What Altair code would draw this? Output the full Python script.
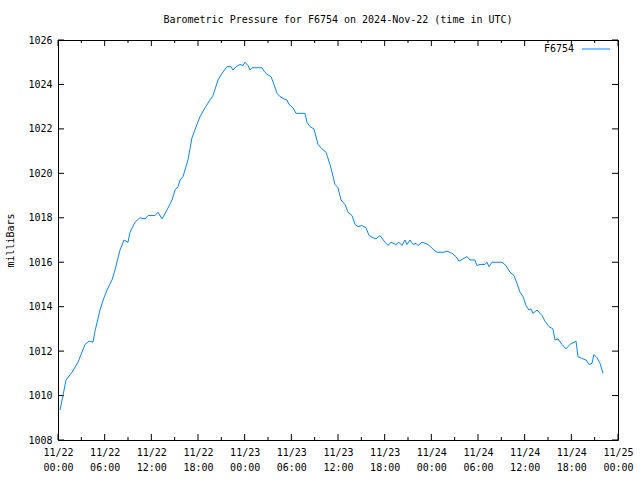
import altair as alt
import pandas as pd

# hours after 2024-11-22 00:00 UTC
hours = [0.26, 0.64, 1.03, 1.80, 2.57, 3.47, 3.99, 4.50, 4.76, 5.40, 5.91, 6.30, 6.94, 7.33,
         7.97, 8.49, 9.00, 9.26, 9.90, 10.54, 11.19, 11.57, 12.47, 12.86, 13.37, 14.01, 14.66,
         15.04, 15.43, 15.69, 16.07, 16.71, 17.23, 17.87, 18.26, 18.90, 19.54, 19.93, 20.57,
         21.09, 21.73, 22.24, 22.50, 22.89, 23.40, 23.79, 24.04, 24.43, 24.69, 24.94, 26.23,
         26.49, 26.87, 27.39, 27.77, 28.16, 28.54, 29.06, 29.44, 29.70, 30.21, 30.60, 31.76,
         32.01, 32.40, 32.91, 33.43, 33.94, 34.46, 34.97, 35.23, 35.61, 36.00, 36.39, 36.90,
         37.29, 37.80, 38.19, 38.57, 39.09, 39.60, 39.99, 40.50, 40.89, 41.40, 42.04, 42.43,
         42.81, 43.46, 43.84, 44.23, 44.61, 44.87, 45.26, 45.64, 46.03, 46.29, 46.80, 47.19,
         47.57, 48.34, 48.73, 49.63, 50.01, 50.66, 51.17, 51.56, 52.07, 52.59, 52.97, 53.61,
         53.87, 54.26, 54.90, 55.16, 55.41, 55.80, 57.09, 57.60, 58.11, 58.63, 59.01, 59.40,
         59.79, 60.17, 60.56, 60.81, 61.07, 61.59, 62.23, 62.61, 63.13, 63.64, 63.90, 64.29,
         64.80, 65.31, 65.83, 66.60, 66.86, 67.50, 67.89, 68.27, 68.66, 68.91, 69.30, 69.69,
         69.94, 70.07]

pressure = [1009.35, 1010.0, 1010.7, 1011.05, 1011.5, 1012.3, 1012.45, 1012.4, 1012.9, 1013.85,
            1014.4, 1014.75, 1015.2, 1015.65, 1016.55, 1017.0, 1016.9, 1017.35, 1017.8, 1018.0,
            1017.95, 1018.1, 1018.1, 1018.25, 1017.95, 1018.35, 1018.8, 1019.25, 1019.4, 1019.7,
            1019.85, 1020.6, 1021.6, 1022.2, 1022.55, 1022.95, 1023.3, 1023.5, 1024.2, 1024.5,
            1024.8, 1024.8, 1024.65, 1024.8, 1024.9, 1024.85, 1025.0, 1024.85, 1024.65, 1024.75,
            1024.75, 1024.6, 1024.45, 1024.35, 1024.0, 1023.6, 1023.45, 1023.35, 1023.3, 1023.1,
            1022.95, 1022.7, 1022.7, 1022.3, 1022.1, 1022.0, 1021.3, 1021.1, 1020.95, 1020.4,
            1020.05, 1019.5, 1019.35, 1018.8, 1018.6, 1018.25, 1018.1, 1017.7, 1017.6, 1017.65,
            1017.55, 1017.2, 1017.1, 1017.05, 1017.2, 1016.9, 1016.75, 1016.9, 1016.8, 1016.9,
            1016.75, 1017.0, 1016.8, 1017.0, 1016.8, 1016.85, 1016.75, 1016.9, 1016.85, 1016.8,
            1016.55, 1016.45, 1016.45, 1016.5, 1016.4, 1016.25, 1016.05, 1016.15, 1016.25, 1016.1,
            1016.1, 1015.85, 1015.9, 1015.9, 1016.0, 1015.8, 1016.0, 1016.0, 1015.85, 1015.55,
            1015.4, 1015.05, 1014.65, 1014.45, 1014.05, 1013.85, 1013.9, 1013.7, 1013.85, 1013.6,
            1013.35, 1013.1, 1013.0, 1012.5, 1012.55, 1012.3, 1012.1, 1012.3, 1012.45, 1011.75,
            1011.65, 1011.6, 1011.4, 1011.45, 1011.85, 1011.7, 1011.45, 1011.15, 1011.0]

y_ticks = [1008, 1010, 1012, 1014, 1016, 1018, 1020, 1022, 1024, 1026]
x_major_hours = [0, 6, 12, 18, 24, 30, 36, 42, 48, 54, 60, 66, 72]
x_minor_hours = [3, 9, 15, 21, 27, 33, 39, 45, 51, 57, 63, 69]
station = "F6754"
title_text = "Barometric Pressure for F6754 on 2024-Nov-22 (time in UTC)"

base_t = pd.Timestamp("2024-11-22T00:00:00Z")


def to_ms(hs):
    return [int((base_t + pd.Timedelta(hours=h)).value // 10**6) for h in hs]


df = pd.DataFrame({"t": to_ms(hours), "p": pressure})
major_df = pd.DataFrame({"t": to_ms(x_major_hours)})
minor_df = pd.DataFrame({"t": to_ms(x_minor_hours)})
yt_df = pd.DataFrame({"p": y_ticks})

FONT = "DejaVu Sans Mono"
LINE_COLOR = "#0a84ff"
W, H = 560, 400

x_scale = alt.Scale(type="utc", domain=to_ms([0, 72]))
y_scale = alt.Scale(domain=[1008, 1026], nice=False, zero=False)

x_axis = alt.Axis(
    values=to_ms(x_major_hours), ticks=False, domain=False, grid=False, title=None,
    labelExpr="[utcFormat(datum.value, '%m/%d'), utcFormat(datum.value, '%H:%M')]",
    labelPadding=7, labelAngle=0, labelAlign="center", labelBaseline="top",
    labelLineHeight=15, labelFlush=False, labelOverlap=False,
    labelFont=FONT, labelFontSize=10, labelColor="black")
y_axis = alt.Axis(
    values=y_ticks, ticks=False, domain=False, grid=False, format="d",
    labelPadding=6, labelFont=FONT, labelFontSize=10, labelColor="black",
    title="milliBars", titleFont=FONT, titleFontSize=10, titleFontWeight="normal",
    titleColor="black", titlePadding=12)

X = alt.X("t:T", scale=x_scale, axis=x_axis)
Y = alt.Y("p:Q", scale=y_scale, axis=y_axis)

line = alt.Chart(df).mark_line(color=LINE_COLOR, strokeWidth=1).encode(x=X, y=Y)


def xticks(data, y0, y1):
    return alt.Chart(data).mark_rule(color="black", strokeWidth=1).encode(
        x=X, y=alt.value(y0), y2=alt.value(y1))


def yticks(x0, x1):
    return alt.Chart(yt_df).mark_rule(color="black", strokeWidth=1).encode(
        y=Y, x=alt.value(x0), x2=alt.value(x1))


legend_df = pd.DataFrame({"label": [station]})
legend_text = alt.Chart(legend_df).mark_text(
    align="right", baseline="middle", font=FONT, fontSize=10, color="black"
).encode(text="label:N", x=alt.value(516), y=alt.value(9))
legend_line = alt.Chart(legend_df).mark_rule(color=LINE_COLOR, strokeWidth=1).encode(
    x=alt.value(524), x2=alt.value(552), y=alt.value(9))

chart = alt.layer(
    xticks(major_df, H, H - 6), xticks(major_df, 0, 6),
    xticks(minor_df, H, H - 3), xticks(minor_df, 0, 3),
    yticks(0, 6), yticks(W, W - 6),
    line,
    legend_text, legend_line,
).properties(
    width=W, height=H,
    autosize=alt.AutoSizeParams(type="none"),
    padding={"left": 58, "top": 40, "right": 22, "bottom": 40},
    title=alt.TitleParams(title_text, font=FONT, fontSize=10, fontWeight="normal",
                          color="black", anchor="middle", offset=10),
    background="white",
).configure_view(stroke="black", strokeWidth=1)

chart.save("out.html", embed_options={"renderer": "svg", "actions": False})
